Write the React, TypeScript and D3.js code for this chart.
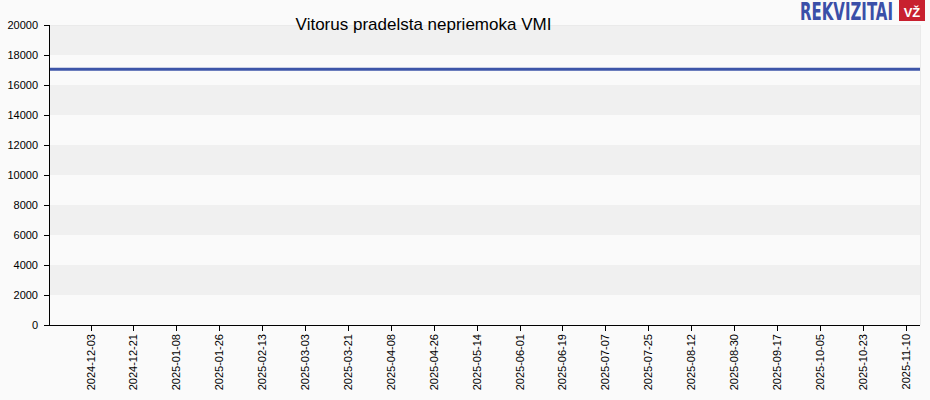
import React, { useLayoutEffect, useRef, useState } from "react";
import * as d3 from "d3";

const title = "Vitorus pradelsta nepriemoka VMI";
const dates = ["2024-11-16", "2025-01-01", "2025-03-01", "2025-05-01", "2025-07-01", "2025-09-01", "2025-11-16"];
const values = [17050, 17050, 17050, 17050, 17050, 17050, 17050];
const yTicks = [0, 2000, 4000, 6000, 8000, 10000, 12000, 14000, 16000, 18000, 20000];
const xTickLabels = [
  "2024-12-03", "2024-12-21", "2025-01-08", "2025-01-26", "2025-02-13", "2025-03-03", "2025-03-21",
  "2025-04-08", "2025-04-26", "2025-05-14", "2025-06-01", "2025-06-19", "2025-07-07", "2025-07-25",
  "2025-08-12", "2025-08-30", "2025-09-17", "2025-10-05", "2025-10-23", "2025-11-10",
];

const W = 930, H = 400;
const left = 50, right = 920, top = 25, bottom = 325;

export default function App() {
  const logoRef = useRef<SVGTextElement>(null);
  const [sx, setSx] = useState(0.6);
  useLayoutEffect(() => {
    if (logoRef.current) {
      const w = logoRef.current.getComputedTextLength();
      if (w > 0) setSx(93 / w);
    }
  }, []);
  const parse = d3.utcParse("%Y-%m-%d");
  const x = d3.scaleUtc().domain([parse(dates[0])!, parse(dates[dates.length - 1])!]).range([left, right]);
  const y = d3.scaleLinear().domain([0, 20000]).range([bottom, top]);
  const pts = dates.map((d, i) => [x(parse(d)!), y(values[i])] as [number, number]);
  const line = d3.line()(pts) || "";
  const font = "Arial, 'Liberation Sans', sans-serif";
  return (
    <svg width={W} height={H} style={{ position: "absolute", left: 0, top: 0 }} fontFamily={font}>
      <rect x={0} y={0} width={W} height={H} fill="#fafafa" />
      {yTicks.slice(0, -1).map((t, i) => (
        <rect key={t} x={left} y={y(t + 2000)} width={right - left} height={y(t) - y(t + 2000)}
          fill={i % 2 === 0 ? "#fafafa" : "#f0f0f0"} />
      ))}
      <line x1={left} x2={right} y1={top + 0.5} y2={top + 0.5} stroke="#eaeaea" />
      <line x1={right + 0.5} x2={right + 0.5} y1={top} y2={bottom} stroke="#eaeaea" />
      <path d={line} fill="none" stroke="#3d55a8" strokeWidth={3} />
      <line x1={left - 0.5} x2={left - 0.5} y1={top} y2={bottom} stroke="#000" />
      <line x1={left - 6} x2={right} y1={bottom + 0.5} y2={bottom + 0.5} stroke="#000" />
      {yTicks.map((t) => (
        <g key={t}>
          <line x1={left - 6} x2={left} y1={Math.round(y(t)) + 0.5} y2={Math.round(y(t)) + 0.5} stroke="#000" />
          <text x={left - 12} y={y(t)} dy="0.35em" textAnchor="end" fontSize={11} fill="#000">{t}</text>
        </g>
      ))}
      {xTickLabels.map((l) => {
        const xx = Math.round(x(parse(l)!)) + 0.5;
        return (
          <g key={l}>
            <line x1={xx} x2={xx} y1={bottom} y2={bottom + 6} stroke="#000" />
            <text transform={`translate(${xx},${bottom + 9}) rotate(-90)`} dy="0.35em" textAnchor="end" fontSize={11} fill="#000">{l}</text>
          </g>
        );
      })}
      <text x={423.5} y={30} textAnchor="middle" fontSize={17} fill="#000">{title}</text>
      <g transform={`translate(800,20) scale(${sx},1)`}>
        <text ref={logoRef} x={0} y={0} fontSize={25} fontWeight="bold" fill="#3a4fa8"
          fontFamily="'DejaVu Sans Condensed', 'Liberation Sans Narrow', sans-serif">REKVIZITAI</text>
      </g>
      <rect x={899} y={0} width={26} height={21} fill="#c8202f" />
      <text x={912} y={17} textAnchor="middle" fontSize={13} fontWeight="bold" fill="#fff">VŽ</text>
    </svg>
  );
}
